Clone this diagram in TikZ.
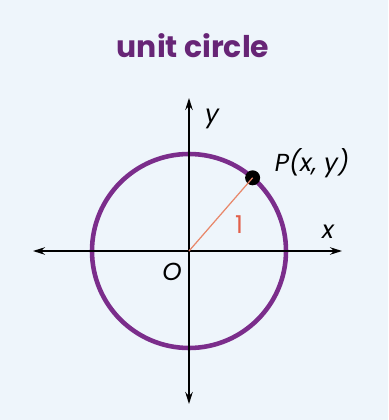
\documentclass[tikz,border=0pt]{standalone}
\usepackage{fontspec}
\setmainfont{Poppins}
\usetikzlibrary{arrows.meta}
\definecolor{bgblue}{HTML}{EEF5FB}
\definecolor{circpurple}{HTML}{7B2D8B}
\definecolor{titlepurple}{HTML}{672576}
\definecolor{radorange}{HTML}{E8876A}
\definecolor{onered}{HTML}{E2604A}
\begin{document}
\begin{tikzpicture}[axis/.style={line width=0.8pt, {Stealth[length=2.4mm, width=1.5mm]}-{Stealth[length=2.4mm, width=1.5mm]}}, lbl/.style={font=\fontsize{14}{16}\selectfont\itshape, inner sep=0pt}]
	\fill[bgblue] (-3.78, -3.38) rectangle (3.98, 5.02);
	\useasboundingbox (-3.78, -3.38) rectangle (3.98, 5.02);
	\coordinate (O) at (0, 0);
	\coordinate (XL) at (-3.12, 0);
	\coordinate (XR) at (3.06, 0);
	\coordinate (YT) at (0, 3.06);
	\coordinate (YB) at (0, -3.06);
	\draw[circpurple, line width=2.6pt] (O) circle (1.94);
	\draw[axis] (XL) -- (XR);
	\draw[axis] (YB) -- (YT);
	\node[shape=circle, fill=black, minimum size=0.3cm, inner sep=0pt] (P) at (49:1.94){};
	\draw[radorange, line width=0.7pt] (O) -- (P.center);
	\node[font=\fontsize{17}{20}\selectfont\bfseries, text=titlepurple] (title) at (0.08, 4.1){unit circle};
	\node[lbl] (Plbl) at (2.46, 1.76){P(x, y)};
	\node[lbl] (ylbl) at (0.46, 2.64){y};
	\node[lbl] (xlbl) at (2.78, 0.38){x};
	\node[lbl] (Olbl) at (-0.34, -0.42){O};
	\node[lbl, font=\fontsize{14}{16}\selectfont, text=onered] (one) at (1.0, 0.52){1};
\end{tikzpicture}
\end{document}
